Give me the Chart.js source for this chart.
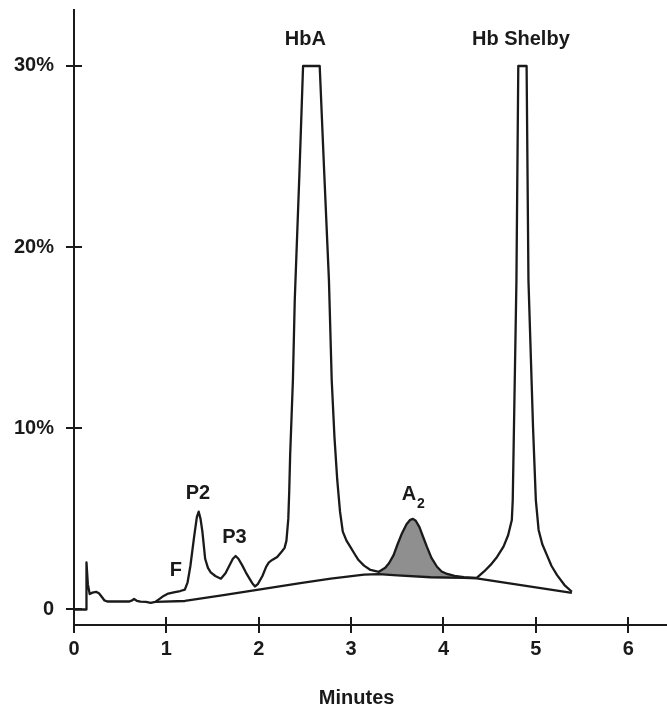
<!DOCTYPE html>
<html>
<head>
<meta charset="utf-8">
<title>Hemoglobin HPLC chromatogram</title>
<script src="https://cdn.jsdelivr.net/npm/chart.js@4.4.1/dist/chart.umd.min.js"></script>
<style>
  html, body { margin: 0; padding: 0; background: #ffffff; }
  canvas { display: block; }
</style>
</head>
<body>
<canvas id="chart" width="667" height="707"></canvas>
<script>
// Detector trace: retention time (minutes) and signal (% of total)
const traceTime = [
  0, 0.13, 0.135, 0.15, 0.17, 0.20, 0.24, 0.27, 0.30, 0.33,
  0.36, 0.45, 0.60, 0.63, 0.65, 0.68, 0.72, 0.78, 0.83, 0.88,
  0.93, 0.97, 1.02, 1.08, 1.15, 1.20, 1.23, 1.26, 1.30, 1.33,
  1.35, 1.37, 1.39, 1.42, 1.45, 1.48, 1.53, 1.59, 1.64, 1.68,
  1.72, 1.75, 1.78, 1.82, 1.86, 1.90, 1.93, 1.96, 1.99, 2.04,
  2.08, 2.11, 2.15, 2.20, 2.25, 2.28, 2.30, 2.32, 2.33, 2.34,
  2.37, 2.39, 2.44, 2.48, 2.66, 2.71, 2.76, 2.79, 2.82, 2.85,
  2.88, 2.91, 2.95, 2.99, 3.04, 3.08, 3.14, 3.21, 3.30, 3.37,
  3.41, 3.46, 3.50, 3.55, 3.60, 3.64, 3.67, 3.70, 3.74, 3.78,
  3.82, 3.87, 3.93, 3.98, 4.04, 4.12, 4.22, 4.36, 4.44, 4.51,
  4.58, 4.65, 4.70, 4.74, 4.75, 4.79, 4.81, 4.90, 4.92, 4.97,
  5.00, 5.03, 5.07, 5.12, 5.17, 5.23, 5.31, 5.39
];
const traceSignal = [
  0, 0, 2.6, 1.4, 0.85, 0.93, 0.97, 0.9, 0.7, 0.5,
  0.44, 0.44, 0.44, 0.5, 0.58, 0.48, 0.43, 0.42, 0.36, 0.42,
  0.6, 0.75, 0.88, 0.95, 1.02, 1.1, 1.5, 2.4, 4.0, 5.1,
  5.4, 5.0, 4.3, 2.8, 2.3, 2.05, 1.85, 1.7, 2.0, 2.4,
  2.8, 2.95, 2.8, 2.45, 2.05, 1.7, 1.45, 1.27, 1.4, 1.85,
  2.35, 2.6, 2.75, 2.9, 3.2, 3.4, 3.8, 5.0, 6.5, 8.5,
  12.67, 17.08, 24, 30, 30, 24, 18.18, 12.67, 9.5, 7.15,
  5.4, 4.3, 3.8, 3.47, 3.05, 2.73, 2.42, 2.18, 2.08, 2.3,
  2.55, 3.0, 3.56, 4.2, 4.7, 4.95, 5.0, 4.9, 4.55, 4.0,
  3.47, 2.85, 2.36, 2.1, 1.96, 1.85, 1.78, 1.74, 2.1, 2.46,
  2.9, 3.47, 4.1, 4.94, 6.04, 18.18, 30, 30, 18.18, 10,
  6.04, 4.39, 3.6, 3.0, 2.4, 1.9, 1.35, 0.98
];

// Integration baseline drawn under the peaks
const baselineTime   = [0.88, 1.20, 1.60, 2.00, 2.45, 2.78, 3.14, 3.30, 3.50, 3.86, 4.22, 4.36, 5.39];
const baselineSignal = [0.42, 0.47, 0.78, 1.10, 1.46, 1.70, 1.92, 1.95, 1.88, 1.78, 1.74, 1.72, 0.92];

// Shaded HbA2 window (minutes)
const a2Window = [3.30, 4.36];

// Axis ticks
const xTickValues = [0, 1, 2, 3, 4, 5, 6];
const yTickValues = [0, 10, 20, 30];
const yTickLabels = ['0', '10%', '20%', '30%'];
const xAxisTitle = 'Minutes';

// Peak names, with an optional subscript
const peakNames     = ['F', 'P2', 'P3', 'HbA', 'A', 'Hb Shelby'];
const peakSubscript = ['',  '',   '',   '',    '2', ''];
// Where each name sits, in chart units (minutes, %)
const peakLabelTime   = [1.104, 1.342, 1.737, 2.505, 3.673, 4.838];
const peakLabelSignal = [2.18, 6.43, 4.0, 31.49, 6.34, 31.49];

const INK = '#1a1a1a';
const FAMILY = '"Liberation Sans", Arial, Helvetica, sans-serif';
const TEXT_SIZE = 20;

const toPoints = (ts, vs) => ts.map((t, i) => ({ x: t, y: vs[i] }));
const tracePoints = toPoints(traceTime, traceSignal);
const baselinePoints = toPoints(baselineTime, baselineSignal);
const inA2 = p => p.x >= a2Window[0] && p.x <= a2Window[1];
const a2Area = tracePoints.filter(inA2).concat(baselinePoints.filter(inA2).reverse());

// Tick marks that cross the axis lines, peak names and the axis title
const chromatogramDecor = {
  id: 'chromatogramDecor',
  afterDraw(chart) {
    const { ctx, chartArea } = chart;
    const xs = chart.scales.x, ys = chart.scales.y;
    const half = 8;
    ctx.save();
    ctx.strokeStyle = INK;
    ctx.lineWidth = 2;
    xs.ticks.forEach(t => {
      const px = Math.round(xs.getPixelForValue(t.value));
      ctx.beginPath();
      ctx.moveTo(px, chartArea.bottom - half);
      ctx.lineTo(px, chartArea.bottom + half);
      ctx.stroke();
    });
    ys.ticks.forEach(t => {
      const py = Math.round(ys.getPixelForValue(t.value));
      ctx.beginPath();
      ctx.moveTo(chartArea.left - half, py);
      ctx.lineTo(chartArea.left + half, py);
      ctx.stroke();
    });

    ctx.fillStyle = INK;
    ctx.textBaseline = 'middle';
    const mainFont = `bold ${TEXT_SIZE}px ${FAMILY}`;
    const subFont = `bold ${Math.round(TEXT_SIZE * 0.7)}px ${FAMILY}`;
    peakNames.forEach((name, i) => {
      const cx = xs.getPixelForValue(peakLabelTime[i]);
      const cy = ys.getPixelForValue(peakLabelSignal[i]);
      ctx.font = mainFont;
      const w = ctx.measureText(name).width;
      const sub = peakSubscript[i];
      let sw = 0;
      if (sub) { ctx.font = subFont; sw = ctx.measureText(sub).width + 1; }
      const x0 = cx - (w + sw) / 2;
      ctx.textAlign = 'left';
      ctx.font = mainFont;
      ctx.fillText(name, x0, cy);
      if (sub) {
        ctx.font = subFont;
        ctx.fillText(sub, x0 + w + 1, cy + 10);
      }
    });

    ctx.textAlign = 'center';
    ctx.font = `bold ${TEXT_SIZE}px ${FAMILY}`;
    ctx.fillText(xAxisTitle, xs.getPixelForValue(3.06), 698);
    ctx.restore();
  }
};

new Chart(document.getElementById('chart'), {
  type: 'line',
  data: {
    datasets: [
      {
        label: 'Signal',
        data: tracePoints,
        borderColor: INK,
        borderWidth: 2.3,
        tension: 0,
        borderJoinStyle: 'round',
        pointRadius: 0,
        fill: false
      },
      {
        label: 'Baseline',
        data: baselinePoints,
        borderColor: INK,
        borderWidth: 2.3,
        tension: 0,
        borderJoinStyle: 'round',
        pointRadius: 0,
        fill: false
      },
      {
        label: 'HbA2',
        data: a2Area,
        borderWidth: 0,
        borderColor: 'rgba(0,0,0,0)',
        backgroundColor: '#8f8f8f',
        tension: 0,
        pointRadius: 0,
        fill: 'shape'
      }
    ]
  },
  options: {
    responsive: false,
    animation: false,
    devicePixelRatio: 1,
    layout: { padding: { left: 0, right: 0, top: 10, bottom: 0 } },
    plugins: { legend: { display: false }, tooltip: { enabled: false } },
    scales: {
      x: {
        type: 'linear',
        min: 0,
        max: 6.42,
        afterBuildTicks(scale) { scale.ticks = xTickValues.map(v => ({ value: v })); },
        afterFit(scale) {
          scale.height = 82;
          scale.paddingLeft = 0;
          scale.paddingRight = 0;
        },
        grid: { display: false, drawTicks: false },
        border: { display: true, color: INK, width: 2 },
        ticks: {
          autoSkip: false,
          maxRotation: 0,
          padding: 12,
          color: INK,
          font: { family: FAMILY, size: TEXT_SIZE, weight: 'bold' },
          callback: v => String(v)
        }
      },
      y: {
        min: -0.856,
        max: 33.09,
        afterBuildTicks(scale) { scale.ticks = yTickValues.map(v => ({ value: v })); },
        afterFit(scale) {
          scale.width = 74;
          scale.paddingTop = 0;
          scale.paddingBottom = 0;
        },
        grid: { display: false, drawTicks: false },
        border: { display: true, color: INK, width: 2 },
        ticks: {
          autoSkip: false,
          padding: 20,
          color: INK,
          font: { family: FAMILY, size: TEXT_SIZE, weight: 'bold' },
          callback: (v, i) => yTickLabels[i]
        }
      }
    }
  },
  plugins: [chromatogramDecor]
});
</script>
</body>
</html>
